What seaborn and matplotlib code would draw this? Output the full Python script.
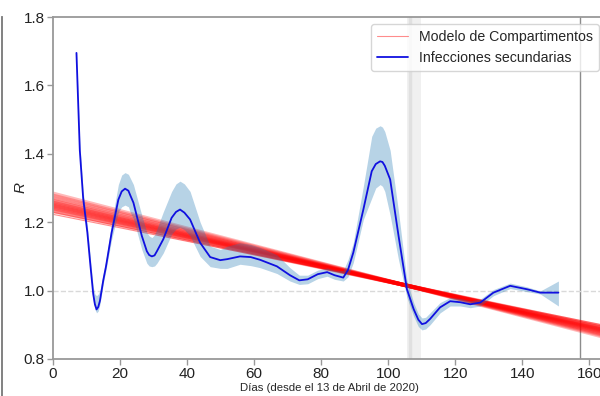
import matplotlib
matplotlib.use('Agg')
import matplotlib.pyplot as plt
import numpy as np
import pandas as pd
import seaborn as sns

# Curva de infecciones secundarias
dias = [7.0, 8.0, 9.0, 10.25, 11.2, 12.0, 12.5, 13.0, 13.5, 14.0, 15.0, 15.8, 17.5, 19.5, 20.5, 21.5,
        22.5, 23.0, 24.0, 26.5, 28.0, 28.7, 29.5, 30.3, 31.0, 32.9, 35.4, 36.7, 37.9, 39.2, 40.9,
        43.9, 46.9, 49.9, 52.0, 55.8, 59.0, 61.8, 66.8, 70.7, 73.5, 76.0, 79.0, 81.8, 84.0, 86.6,
        88.0, 89.6, 92.6, 95.1, 96.3, 97.6, 98.3, 99.0, 100.6, 103.1, 105.6, 107.6, 109.0, 110.1,
        111.2, 112.5, 115.5, 118.5, 121.5, 124.5, 127.5, 131.4, 136.4, 141.4, 145.4, 150.8]
r_sec = [1.695, 1.41, 1.27, 1.17, 1.07, 0.99, 0.96, 0.945, 0.952, 0.97, 1.03, 1.07, 1.17, 1.266, 1.29, 1.298,
         1.292, 1.28, 1.257, 1.16, 1.115, 1.104, 1.10, 1.103, 1.115, 1.15, 1.213, 1.23, 1.237, 1.228, 1.208,
         1.14, 1.098, 1.089, 1.092, 1.10, 1.098, 1.09, 1.071, 1.045, 1.03, 1.033, 1.048, 1.054, 1.045, 1.038,
         1.06, 1.111, 1.237, 1.349, 1.37, 1.378, 1.376, 1.365, 1.325, 1.16, 1.004, 0.946, 0.915, 0.902,
         0.905, 0.917, 0.951, 0.969, 0.966, 0.96, 0.965, 0.994, 1.014, 1.004, 0.994, 0.994]
r_sec_lo = [1.69, 1.40, 1.26, 1.15, 1.05, 0.97, 0.945, 0.935, 0.94, 0.96, 1.02, 1.06, 1.15, 1.23, 1.245, 1.25,
            1.245, 1.23, 1.21, 1.12, 1.08, 1.072, 1.07, 1.072, 1.08, 1.11, 1.165, 1.18, 1.185, 1.178, 1.16,
            1.10, 1.07, 1.065, 1.065, 1.077, 1.073, 1.067, 1.05, 1.028, 1.018, 1.02, 1.035, 1.042, 1.033, 1.028,
            1.04, 1.082, 1.208, 1.27, 1.30, 1.31, 1.305, 1.29, 1.22, 1.09, 0.98, 0.925, 0.895, 0.885,
            0.888, 0.90, 0.935, 0.955, 0.955, 0.95, 0.955, 0.985, 1.006, 0.997, 0.99, 0.955]
r_sec_hi = [1.70, 1.43, 1.29, 1.19, 1.09, 1.01, 0.99, 0.985, 0.99, 1.00, 1.05, 1.09, 1.20, 1.31, 1.338, 1.345,
            1.34, 1.33, 1.31, 1.22, 1.17, 1.16, 1.155, 1.163, 1.18, 1.23, 1.29, 1.312, 1.32, 1.312, 1.29,
            1.20, 1.13, 1.12, 1.13, 1.14, 1.135, 1.126, 1.105, 1.067, 1.045, 1.045, 1.06, 1.066, 1.06, 1.058,
            1.09, 1.14, 1.305, 1.451, 1.475, 1.482, 1.478, 1.465, 1.41, 1.23, 1.03, 0.965, 0.932, 0.92,
            0.922, 0.935, 0.965, 0.98, 0.977, 0.97, 0.975, 1.003, 1.022, 1.011, 0.999, 1.028]

# Modelo de compartimentos: muestras (R al dia 0 y al dia 170)
modelo_x = [0, 170]
modelo_ini = [1.284, 1.278, 1.272, 1.266, 1.262, 1.258, 1.255, 1.252, 1.249, 1.246, 1.243, 1.240, 1.236, 1.232]
modelo_fin = [0.850, 0.854, 0.8575, 0.861, 0.8637, 0.866, 0.868, 0.870, 0.872, 0.8736, 0.8755, 0.8773, 0.8798, 0.8823]
modelo_fino_ini = [1.229, 1.223]
modelo_fino_fin = [0.884, 0.888]

df = pd.DataFrame({'dia': dias, 'R': r_sec, 'lo': r_sec_lo, 'hi': r_sec_hi})

sns.set_style('white')
plt.rcParams['axes.edgecolor'] = '#999999'
plt.rcParams['axes.linewidth'] = 1.3
plt.rcParams['xtick.color'] = '#999999'
plt.rcParams['ytick.color'] = '#999999'
plt.rcParams['xtick.labelcolor'] = '#222222'
plt.rcParams['ytick.labelcolor'] = '#222222'
plt.rcParams['font.family'] = ['Liberation Sans', 'DejaVu Sans']
plt.rcParams['mathtext.fontset'] = 'custom'
plt.rcParams['mathtext.it'] = 'Liberation Sans:italic'

fig = plt.figure(figsize=(6, 3.96), dpi=100)

# panel vecino recortado a la izquierda
ax0 = fig.add_axes([-0.5, -0.2, 0.5035, 1.157])
ax0.set_xticks([])
ax0.set_yticks([])
for s in ['left', 'top', 'bottom']:
    ax0.spines[s].set_visible(False)
ax0.spines['right'].set_color('#777777')

ax = fig.add_axes([53 / 600, 37 / 396, 553 / 600, 342 / 396])

ax.axvspan(105.6, 109.8, color='0.94', lw=0, zorder=0)
ax.axvline(106.4, color='0.88', lw=2.5, zorder=0)
ax.axvline(157.3, color='0.55', lw=1, zorder=1)
ax.axhline(1.0, color='0.85', lw=1, ls='--', zorder=1)

for s0, s1 in zip(modelo_ini, modelo_fin):
    sns.lineplot(x=modelo_x, y=[s0, s1], color='red', alpha=0.27, lw=2.8, ax=ax, zorder=2)
for k, (s0, s1) in enumerate(zip(modelo_fino_ini, modelo_fino_fin)):
    sns.lineplot(x=modelo_x, y=[s0, s1], color='red', alpha=0.45, lw=0.8, ax=ax, zorder=2,
                 label='Modelo de Compartimentos' if k == 0 else None)

ax.fill_between(df['dia'], df['lo'], df['hi'], color='#1f77b4', alpha=0.32, lw=0, zorder=3)
sns.lineplot(data=df, x='dia', y='R', color='#1010e0', lw=1.3, ax=ax, zorder=4,
             label='Infecciones secundarias')

ax.set_xlim(0, 165)
ax.set_ylim(0.8, 1.8)
ax.set_xticks(np.arange(0, 161, 20))
ax.set_yticks(np.arange(0.8, 1.81, 0.2))
ax.tick_params(axis='both', labelsize=11, length=4, width=1, pad=2, bottom=True, left=True)
ax.set_xlabel('Días (desde el 13 de Abril de 2020)', fontsize=8.2, labelpad=1)
ax.set_ylabel('$R$', fontsize=11)
ax.yaxis.set_label_coords(-0.046, 0.5)
ax.legend(loc='upper right', fontsize=10.2, frameon=True, handlelength=2.2, borderpad=0.4)

fig.savefig('out.png', dpi=100)
